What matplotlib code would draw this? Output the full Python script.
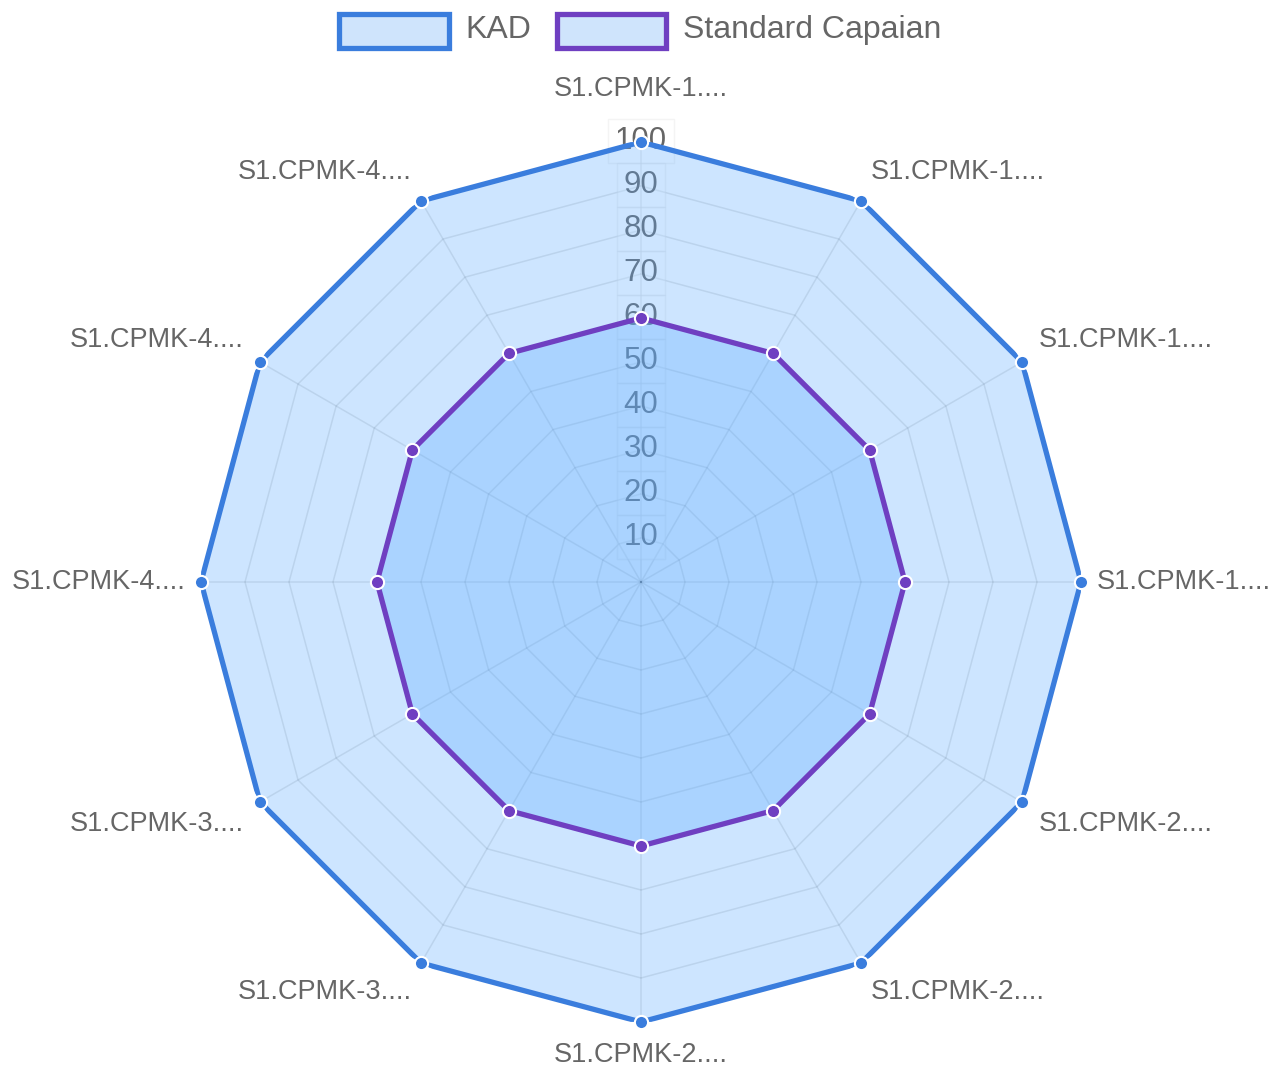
import numpy as np
import matplotlib
matplotlib.use("Agg")
import matplotlib.pyplot as plt
from matplotlib.patches import Rectangle

plt.rcParams['font.family'] = ['Liberation Sans', 'DejaVu Sans']

categories = ["S1.CPMK-1....", "S1.CPMK-1....", "S1.CPMK-1....", "S1.CPMK-1....",
              "S1.CPMK-2....", "S1.CPMK-2....", "S1.CPMK-2....", "S1.CPMK-3....",
              "S1.CPMK-3....", "S1.CPMK-4....", "S1.CPMK-4....", "S1.CPMK-4...."]
kad = [100, 100, 100, 100, 100, 100, 100, 100, 100, 100, 100, 100]
standard = [60, 60, 60, 60, 60, 60, 60, 60, 60, 60, 60, 60]
tick_values = [10, 20, 30, 40, 50, 60, 70, 80, 90, 100]
series_names = ["KAD", "Standard Capaian"]

W, H = 1272, 1070
fig = plt.figure(figsize=(W / 100, H / 100), dpi=100)
cx, cy, R = 641, 582, 440
ax = fig.add_axes([(cx - R) / W, (H - cy - R) / H, 2 * R / W, 2 * R / H], projection='polar')
ax.set_theta_zero_location('N')
ax.set_theta_direction(-1)
ax.set_ylim(0, 100)
ax.grid(False)
ax.set_xticks([])
ax.set_yticks([])
ax.spines['polar'].set_visible(False)
ax.patch.set_alpha(0)

n = len(categories)
theta = np.linspace(0, 2 * np.pi, n, endpoint=False)
theta_c = np.append(theta, theta[0])

grid_col = (0, 0, 0, 0.1)
for lv in tick_values:
    ax.plot(theta_c, [lv] * (n + 1), color=grid_col, lw=1.1, zorder=1)
for t in theta:
    ax.plot([t, t], [0, 100], color=grid_col, lw=1.1, zorder=1)

# tick labels (drawn under fills)
for v in tick_values:
    ax.text(0, v + 0.3, str(v), ha='center', va='center', fontsize=22.5, color='#666666',
            zorder=1.5,
            bbox=dict(boxstyle='square,pad=0.22', facecolor=(1, 1, 1, 0.3),
                      edgecolor=(0.88, 0.88, 0.88, 0.35), lw=1))

fill_col = (90 / 255, 170 / 255, 255 / 255, 0.3)
kad_col = '#3a7ddd'
std_col = '#6f3fc1'

for vals, col in [(kad, kad_col), (standard, std_col)]:
    vc = list(vals) + [vals[0]]
    ax.fill(theta_c, vc, color=fill_col, lw=0, zorder=2)
    ax.plot(theta_c, vc, color=col, lw=3.8, zorder=3, solid_joinstyle='miter')
    ax.plot(theta, vals, 'o', color=col, markersize=9.5, markeredgecolor='white',
            markeredgewidth=1.5, zorder=4, clip_on=False)

# category labels
for i, (t, lab) in enumerate(zip(theta, categories)):
    if i == 0:
        r, ha, va = 112, 'center', 'center'
    elif i == n // 2:
        r, ha, va = 107.5, 'center', 'center'
    else:
        ha = 'left' if i < n // 2 else 'right'
        k = i if i < n // 2 else n - i
        if k == 3:
            r, va = 103.5, 'center'
        elif k < 3:
            r, va = 104.3, 'bottom'
        else:
            r, va = 104.3, 'top'
    ax.text(t, r, lab, ha=ha, va=va, fontsize=19.5, color='#666666', clip_on=False)

# legend (drawn in pixel coordinates)
def px(x, y):
    return x / W, 1 - y / H

leg_fill = (207 / 255, 228 / 255, 252 / 255)
for (x0, x1, tx), name, col in zip([(339, 449, 465), (557, 666, 683)], series_names, [kad_col, std_col]):
    xa, ya = px(x0, 48)
    xb, yb = px(x1, 14)
    fig.patches.append(Rectangle((xa, ya), xb - xa, yb - ya, transform=fig.transFigure,
                                 facecolor=leg_fill, edgecolor=col, lw=3.8))
    tx_, ty_ = px(tx, 30)
    fig.text(tx_, ty_, name, ha='left', va='center', fontsize=23, color='#666666')

fig.savefig('out.png', dpi=100)
